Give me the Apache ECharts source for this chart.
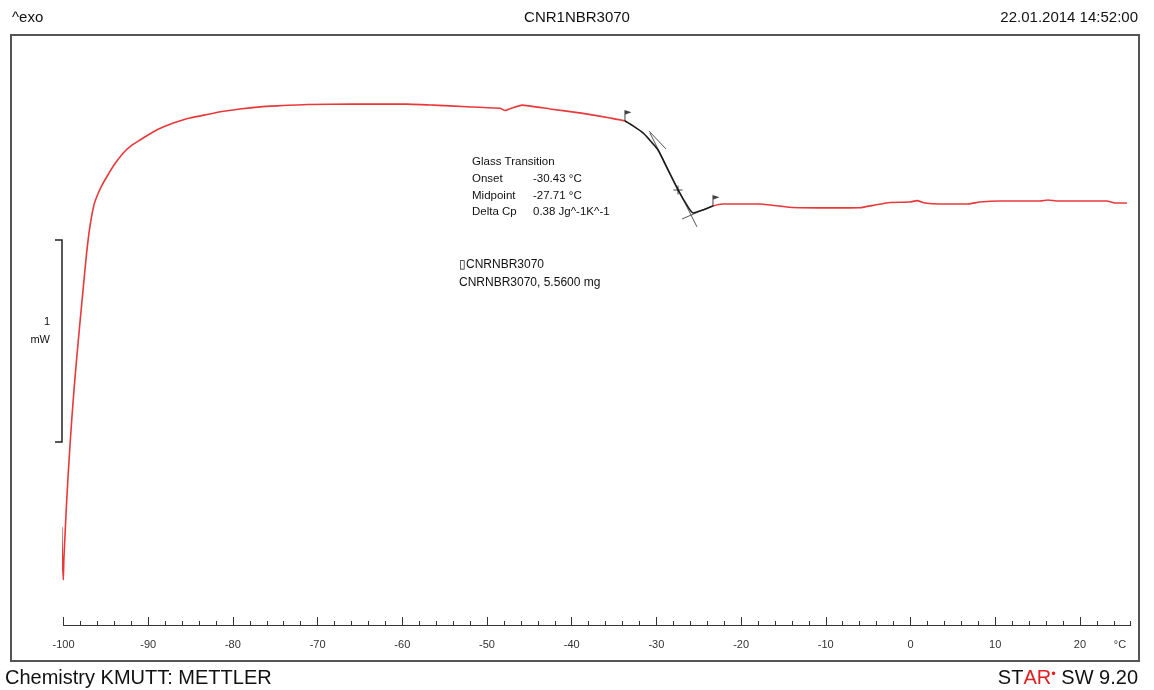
<!DOCTYPE html>
<html>
<head>
<meta charset="utf-8">
<script src="https://cdn.jsdelivr.net/npm/echarts@6/dist/echarts.min.js"></script>
<style>
html,body{margin:0;padding:0;background:#fff;}
#chart{width:1154px;height:690px;}
</style>
</head>
<body>
<div id="chart"></div>
<script>
// ---- DATA ----
var temperatureC = [-100.21,-100.14,-100.02,-99.96,-99.82,-99.65,-99.43,-99.23,-99.03,-98.76,-98.44,-98.05,-97.66,-97.26,-96.99,-96.67,-96.34,-95.89,-95.45,-94.90,-94.04,-92.94,-92.03,-90.97,-90.02,-89.00,-88.02,-87.04,-86.01,-85.07,-83.09,-81.29,-79.16,-76.80,-74.79,-71.25,-65.82,-59.44,-56.37,-52.36,-48.46,-47.87,-47.04,-45.86,-42.56,-38.66,-35.47,-33.71,-31.58,-29.81,-28.63,-27.45,-26.27,-25.68,-24.50,-23.32,-22.14,-17.77,-15.41,-13.88,-9.51,-5.97,-4.20,-2.43,-0.07,0.76,1.70,3.47,6.66,8.19,10.57,15.29,16.24,17.42,23.20,24.14,25.56];
var heatFlowMW = [0.663,0.520,0.401,0.500,0.624,0.772,0.936,1.069,1.193,1.342,1.500,1.678,1.851,2.025,2.119,2.203,2.267,2.317,2.356,2.396,2.455,2.515,2.550,2.579,2.604,2.629,2.647,2.663,2.677,2.688,2.705,2.720,2.733,2.743,2.748,2.755,2.757,2.757,2.752,2.744,2.736,2.725,2.738,2.752,2.733,2.711,2.688,2.673,2.614,2.530,2.431,2.332,2.248,2.218,2.233,2.252,2.262,2.262,2.252,2.245,2.243,2.244,2.257,2.270,2.272,2.279,2.267,2.262,2.262,2.272,2.277,2.277,2.282,2.277,2.277,2.267,2.267];

var xMajorTicks = [-100,-90,-80,-70,-60,-50,-40,-30,-20,-10,0,10,20];

// evaluation limits and midpoint (T, value)
var onsetLimit = [-33.71, 2.673];
var endLimit = [-23.32, 2.252];
var midpointMark = [-27.45, 2.332];

// tangent lines
var tangentOnsetT = [-30.88, -28.87], tangentOnsetV = [2.624, 2.535];
var tangentSteepT = [-30.76, -25.21], tangentSteepV = [2.614, 2.149];
var tangentEndT = [-26.98, -23.44], tangentEndV = [2.188, 2.252];

var headerLeft = '^exo', headerTitle = 'CNR1NBR3070', headerDate = '22.01.2014 14:52:00';
var footerLeft = 'Chemistry KMUTT: METTLER';
var glassLines = [['Glass Transition',''],['Onset','-30.43 °C'],['Midpoint','-27.71 °C'],['Delta Cp','0.38 Jg^-1K^-1']];
var sampleLines = ['\u25AFCNRNBR3070','CNRNBR3070, 5.5600 mg'];

// ---- BUILD ----
function zip(a,b){var r=[];for(var i=0;i<a.length;i++)r.push([a[i],b[i]]);return r;}
var RED = '#e8383a';
var FONT = 'Liberation Sans, Arial, sans-serif';

var chart = echarts.init(document.getElementById('chart'), null, {renderer:'canvas'});

var graphics = [
  {type:'rect', shape:{x:11,y:35,width:1128,height:626}, style:{fill:'none',stroke:'#555',lineWidth:2}, z:1},
  {type:'text', style:{x:12,y:18,text:headerLeft,font:'15px '+FONT,fill:'#111',textVerticalAlign:'middle'}},
  {type:'text', style:{x:577,y:18,text:headerTitle,font:'15px '+FONT,fill:'#111',textAlign:'center',textVerticalAlign:'middle'}},
  {type:'text', style:{x:1138,y:18,text:headerDate,font:'15px '+FONT,fill:'#111',textAlign:'right',textVerticalAlign:'middle'}},
  {type:'text', style:{x:5,y:678,text:footerLeft,font:'20px '+FONT,fill:'#111',textVerticalAlign:'middle'}},
  {type:'text', style:{x:1138,y:678,rich:{b:{font:'20px '+FONT,fill:'#111'},r:{font:'20px '+FONT,fill:'#e02020'},d:{font:'13px '+FONT,fill:'#e02020',verticalAlign:'top'}},text:'{b|ST}{r|AR}{d|•}{b| SW 9.20}',textAlign:'right',textVerticalAlign:'middle'}},
  {type:'polyline', shape:{points:[[55,240],[62,240],[62,442],[55,442]]}, style:{stroke:'#222',lineWidth:1.5,fill:'none'}},
  {type:'text', style:{x:50,y:322,text:'1',font:'11px '+FONT,fill:'#111',textAlign:'right',textVerticalAlign:'middle'}},
  {type:'text', style:{x:50,y:340,text:'mW',font:'11px '+FONT,fill:'#111',textAlign:'right',textVerticalAlign:'middle'}},
  {type:'text', style:{x:1120,y:645,text:'°C',font:'11px '+FONT,fill:'#333',textAlign:'center',textVerticalAlign:'middle'}}
];
glassLines.forEach(function(l,i){
  graphics.push({type:'text', style:{x:472,y:162+i*16.7,text:l[0],font:'11.5px '+FONT,fill:'#111',textVerticalAlign:'middle'}});
  if(l[1]) graphics.push({type:'text', style:{x:533,y:162+i*16.7,text:l[1],font:'11.5px '+FONT,fill:'#111',textVerticalAlign:'middle'}});
});
sampleLines.forEach(function(s,i){
  graphics.push({type:'text', style:{x:459,y:265+i*18,text:s,font:'12px '+FONT,fill:'#111',textVerticalAlign:'middle'}});
});

var flagPath = 'path://M0,0L7,2.2L1,4.4L1,11L0,11Z';
var plusPath = 'path://M4,0h1v4h4v1h-4v4h-1v-4h-4v-1h4z';

var option = {
  animation:false,
  backgroundColor:'#fff',
  grid:{left:63.5,right:23.3,top:35,bottom:65,containLabel:false},
  xAxis:[
    {type:'value',min:-100,max:26,interval:2,
     axisLine:{show:true,onZero:false,lineStyle:{color:'#333',width:1}},
     axisTick:{show:true,inside:true,length:4,lineStyle:{color:'#333'}},
     axisLabel:{show:false},splitLine:{show:false}},
    {type:'value',min:-100,max:26,interval:10,position:'bottom',
     axisLine:{show:false,onZero:false},
     axisTick:{show:true,inside:true,length:8,customValues:xMajorTicks,lineStyle:{color:'#333'}},
     axisLabel:{show:true,customValues:xMajorTicks,margin:14,fontSize:11,fontFamily:FONT,color:'#333',
       formatter:function(v){return (v%10===0)?String(v):'';}},
     splitLine:{show:false}}
  ],
  yAxis:{type:'value',min:0.178,max:3.099,show:false},
  visualMap:{show:false,type:'piecewise',seriesIndex:0,dimension:0,
    pieces:[{max:onsetLimit[0],color:RED},{min:onsetLimit[0],max:endLimit[0],color:'#1a1a1a'},{min:endLimit[0],color:RED}]},
  series:[
    {type:'line',data:zip(temperatureC,heatFlowMW),symbol:'none',clip:false,smooth:0.15,lineStyle:{width:1.6},z:3},
    {type:'line',data:zip(tangentOnsetT,tangentOnsetV),symbol:'none',lineStyle:{color:'#555',width:1},z:2},
    {type:'line',data:zip(tangentSteepT,tangentSteepV),symbol:'none',lineStyle:{color:'#555',width:1},z:2},
    {type:'line',data:zip(tangentEndT,tangentEndV),symbol:'none',lineStyle:{color:'#555',width:1},z:2},
    {type:'scatter',data:[onsetLimit,endLimit],symbol:flagPath,symbolSize:[7,11],symbolOffset:[3,-5.5],itemStyle:{color:'#111'},z:4},
    {type:'scatter',data:[midpointMark],symbol:plusPath,symbolSize:9,itemStyle:{color:'#111'},z:4}
  ],
  graphic:graphics
};
chart.setOption(option);
</script>
</body>
</html>
